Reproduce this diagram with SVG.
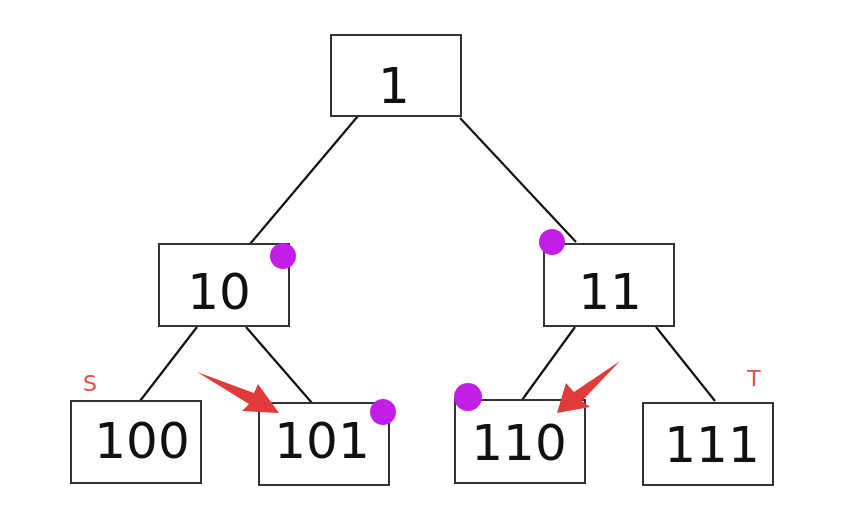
<svg xmlns="http://www.w3.org/2000/svg" width="842" height="514" viewBox="0 0 842 514">
<style>
.box{fill:#fff;stroke:#333;stroke-width:2}
.lbl{font-family:"DejaVu Sans",sans-serif;font-size:50px;fill:#111;text-anchor:middle}
.edge{stroke:#111;stroke-width:2.2;fill:none}
.dot{fill:#c21ee8}
.arrow{fill:#e03a3a}
.tag{font-family:"DejaVu Sans",sans-serif;font-size:22px;fill:#d9534f;text-anchor:middle}
</style>
<rect width="842" height="514" fill="#fff"/>
<g id="connectors">
<line class="edge" x1="358" y1="116" x2="250" y2="244"/>
<line class="edge" x1="460" y1="118" x2="576" y2="242"/>
<line class="edge" x1="197" y1="327" x2="140" y2="401"/>
<line class="edge" x1="246" y1="327" x2="312" y2="403"/>
<line class="edge" x1="575" y1="327" x2="522" y2="400"/>
<line class="edge" x1="656" y1="327" x2="715" y2="401"/>
</g>
<g id="n1"><rect class="box" x="331" y="35" width="130" height="81"/><text class="lbl" x="394" y="103">1</text></g>
<g id="n10"><rect class="box" x="159" y="244" width="130" height="82"/><text class="lbl" x="219" y="309">10</text></g>
<g id="n11"><rect class="box" x="544" y="244" width="130" height="82"/><text class="lbl" x="610" y="309">11</text></g>
<g id="n100"><rect class="box" x="71" y="401" width="130" height="82"/><text class="lbl" x="142" y="458">100</text></g>
<g id="n101"><rect class="box" x="259" y="403" width="130" height="82"/><text class="lbl" x="322" y="458">101</text></g>
<g id="n110"><rect class="box" x="455" y="400" width="130" height="83"/><text class="lbl" x="519" y="460">110</text></g>
<g id="n111"><rect class="box" x="643" y="403" width="130" height="82"/><text class="lbl" x="712" y="462">111</text></g>
<g id="marks">
<circle class="dot" cx="283" cy="256" r="13"/>
<circle class="dot" cx="552" cy="242" r="13"/>
<circle class="dot" cx="383" cy="412" r="13"/>
<circle class="dot" cx="468" cy="397" r="14"/>
<polygon class="arrow" points="197,372 254,393 258,384 279,413 242,411 249,404"/>
<polygon class="arrow" points="620,361 582,401 590,407 557,413 566,383 574,392"/>
<text class="tag" x="90" y="391">S</text>
<text class="tag" x="754" y="386">T</text>
</g>
</svg>
